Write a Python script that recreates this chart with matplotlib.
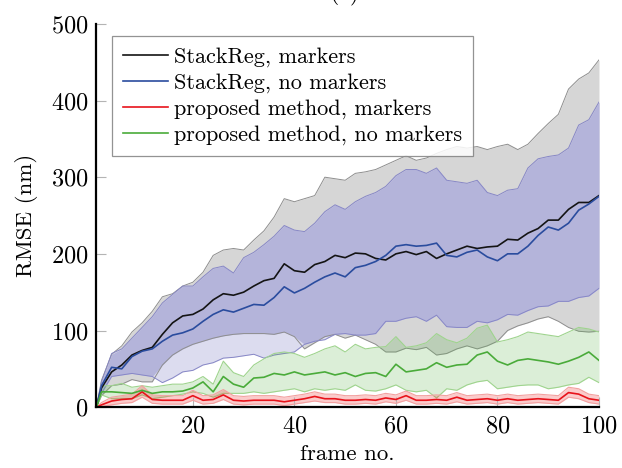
import numpy as np
import matplotlib
matplotlib.use('Agg')
import matplotlib.pyplot as plt

plt.rcParams['font.family'] = 'serif'
plt.rcParams['font.serif'] = ['cmr10']
plt.rcParams['axes.formatter.use_mathtext'] = True
plt.rcParams['mathtext.fontset'] = 'cm'

frames = [1, 2, 4, 6, 8, 10, 12, 14, 16, 18, 20, 22, 24, 26, 28, 30, 32, 34, 36, 38,
          40, 42, 44, 46, 48, 50, 52, 54, 56, 58, 60, 62, 64, 66, 68, 70, 72, 74, 76, 78,
          80, 82, 84, 86, 88, 90, 92, 94, 96, 98, 100]

# StackReg, markers: mean and +/- std
sr_m = [0, 25, 46, 55, 68, 74, 78, 95, 110, 119,
        121, 128, 140, 148, 146, 150, 158, 165, 168, 187,
        178, 176, 186, 190, 198, 195, 201, 200, 194, 192,
        200, 203, 199, 203, 194, 200, 205, 210, 207, 209,
        210, 219, 218, 227, 233, 244, 244, 258, 267, 267,
        276]
sr_m_hi = [0, 35, 69, 80, 98, 110, 125, 144, 148, 158,
           163, 176, 198, 205, 207, 205, 218, 230, 248, 272,
           268, 272, 276, 300, 298, 296, 305, 307, 310, 316,
           322, 328, 322, 325, 331, 336, 340, 338, 340, 336,
           340, 343, 336, 343, 357, 370, 382, 415, 428, 436,
           453]
sr_m_lo = [0, 15, 28, 30, 36, 33, 33, 55, 68, 76,
           82, 86, 90, 93, 95, 96, 96, 96, 95, 98,
           92, 76, 84, 92, 95, 90, 94, 88, 82, 72,
           72, 77, 75, 78, 68, 70, 76, 80, 76, 80,
           86, 100, 106, 110, 115, 118, 112, 104, 99, 98,
           99]

# StackReg, no markers
sr_n = [0, 28, 52, 50, 66, 73, 76, 86, 94, 97,
        102, 112, 121, 127, 124, 129, 134, 133, 143, 157,
        149, 155, 163, 170, 175, 170, 182, 185, 190, 198,
        210, 212, 210, 211, 214, 198, 196, 202, 205, 196,
        191, 200, 200, 210, 224, 235, 231, 240, 257, 265,
        275]
sr_n_hi = [0, 33, 70, 76, 90, 104, 118, 136, 147, 158,
           158, 170, 181, 184, 175, 195, 202, 212, 223, 237,
           231, 229, 240, 255, 264, 258, 268, 275, 280, 288,
           302, 310, 310, 305, 312, 296, 294, 292, 296, 280,
           276, 283, 285, 312, 324, 327, 329, 338, 368, 375,
           398]
sr_n_lo = [0, 18, 40, 42, 44, 42, 40, 32, 38, 46,
           48, 55, 58, 64, 65, 67, 69, 64, 68, 70,
           72, 82, 86, 88, 95, 96, 94, 94, 96, 112,
           112, 116, 118, 112, 120, 105, 104, 104, 112, 110,
           114, 121, 120, 126, 131, 132, 138, 138, 143, 145,
           155]

# proposed method, markers
pm_m = [0, 3, 8, 10, 11, 20, 10, 9, 9, 9,
        15, 9, 10, 16, 9, 8, 9, 9, 9, 7,
        9, 11, 14, 11, 11, 9, 9, 10, 9, 12,
        10, 15, 9, 9, 10, 9, 13, 9, 10, 11,
        9, 11, 9, 10, 11, 10, 9, 19, 17, 11,
        9]
pm_m_hi = [0, 6, 13, 15, 17, 28, 16, 15, 15, 15,
           22, 15, 16, 23, 15, 14, 15, 15, 15, 13,
           15, 17, 20, 17, 17, 15, 15, 16, 15, 18,
           16, 21, 15, 15, 16, 15, 19, 15, 16, 17,
           15, 17, 15, 16, 17, 16, 15, 26, 24, 17,
           15]
pm_m_lo = [0, 1, 3, 5, 6, 13, 5, 4, 4, 4,
           9, 4, 5, 10, 4, 3, 4, 4, 4, 2,
           4, 6, 8, 6, 6, 4, 4, 5, 4, 7,
           5, 9, 4, 4, 5, 4, 7, 4, 5, 6,
           4, 6, 4, 5, 6, 5, 4, 13, 11, 6,
           4]

# proposed method, no markers
pm_n = [0, 20, 20, 19, 18, 22, 18, 20, 20, 21,
        25, 33, 20, 40, 30, 26, 38, 39, 44, 42,
        46, 42, 44, 46, 42, 45, 40, 44, 45, 40,
        56, 46, 48, 50, 58, 52, 55, 56, 68, 72,
        60, 55, 61, 63, 61, 59, 56, 60, 65, 72,
        61]
pm_n_hi = [0, 28, 28, 31, 26, 28, 26, 28, 30, 30,
           33, 40, 30, 60, 45, 40, 55, 63, 70, 72,
           70, 65, 70, 76, 80, 72, 82, 76, 78, 79,
           92, 78, 80, 84, 96, 88, 84, 90, 103, 107,
           85, 88, 92, 98, 96, 94, 92, 98, 104, 102,
           98]
pm_n_lo = [0, 16, 11, 11, 11, 16, 11, 13, 15, 17,
           20, 18, 13, 18, 18, 18, 20, 18, 20, 22,
           24, 20, 24, 22, 24, 22, 29, 22, 21, 24,
           29, 22, 20, 22, 12, 24, 22, 29, 33, 35,
           24, 26, 28, 29, 29, 24, 26, 29, 31, 39,
           32]

labels = ['StackReg, markers', 'StackReg, no markers',
          'proposed method, markers', 'proposed method, no markers']

x = np.array(frames)
g_lo, g_hi = np.array(sr_m_lo), np.array(sr_m_hi)
b_lo, b_hi = np.array(sr_n_lo), np.array(sr_n_hi)

fig = plt.figure(figsize=(6.22, 4.68), dpi=100)
ax = fig.add_axes([0.155, 0.130, 0.808, 0.819])

# std bands of the two StackReg runs, overlap drawn darker
ax.fill_between(x, g_lo, g_hi, color='#d6d6d6', lw=0, zorder=1)
ax.fill_between(x, b_lo, b_hi, color='#dcdcef', lw=0, zorder=1)
o_lo, o_hi = np.maximum(g_lo, b_lo), np.minimum(g_hi, b_hi)
ax.fill_between(x, o_lo, o_hi, where=o_hi > o_lo, interpolate=True,
                color='#b4b4da', lw=0, zorder=1.1)
for y in (g_lo, g_hi):
    ax.plot(x, y, color='#8e8e8e', lw=0.7, zorder=1.2)
for y in (b_lo, b_hi):
    ax.plot(x, y, color='#8787c6', lw=0.7, zorder=1.2)

ax.fill_between(x, pm_n_lo, pm_n_hi, color='#5cb34a', alpha=0.22, lw=0, zorder=1.3)
ax.plot(x, pm_n_lo, color='#9fd48e', lw=0.8, zorder=1.4)
ax.plot(x, pm_n_hi, color='#9fd48e', lw=0.8, zorder=1.4)
ax.fill_between(x, pm_m_lo, pm_m_hi, color='#f03030', alpha=0.25, lw=0, zorder=1.5)
ax.plot(x, pm_m_lo, color='#f3a0a0', lw=0.8, zorder=1.6)
ax.plot(x, pm_m_hi, color='#f3a0a0', lw=0.8, zorder=1.6)

ax.plot(x, sr_m, color='#141414', lw=1.2, label=labels[0], zorder=3)
ax.plot(x, sr_n, color='#2a4c9e', lw=1.2, label=labels[1], zorder=3)
ax.plot(x, pm_m, color='#e8131b', lw=1.2, label=labels[2], zorder=3)
ax.plot(x, pm_n, color='#4aab3a', lw=1.2, label=labels[3], zorder=3)

ax.set_xlim(1, 100)
ax.set_ylim(0, 500)
ax.set_xticks([20, 40, 60, 80, 100])
ax.set_yticks([0, 100, 200, 300, 400, 500])
ax.tick_params(direction='in', length=7.5, width=0.8, color='#b4b4b4',
               labelsize=17.5, pad=6)
for s in ('top', 'right'):
    ax.spines[s].set_visible(False)
for s in ('left', 'bottom'):
    ax.spines[s].set_linewidth(1.6)
    ax.spines[s].set_zorder(4)

ax.set_xlabel('frame no.', fontsize=16.5, labelpad=5)
ax.set_ylabel('RMSE (nm)', fontsize=16.5, labelpad=9)

leg = ax.legend(loc='upper left', bbox_to_anchor=(0.031, 0.969), fontsize=16,
                frameon=True, fancybox=False, edgecolor='#808080',
                framealpha=0.85, handlelength=2.0, handletextpad=0.3,
                borderpad=0.5, labelspacing=0.28, borderaxespad=0)
leg.get_frame().set_linewidth(0.9)
leg.set_zorder(5)

fig.text(345 / 622, 1 + 7 / 468, '(a)', fontsize=17, ha='center', va='center')

fig.savefig('out.png', dpi=100)
